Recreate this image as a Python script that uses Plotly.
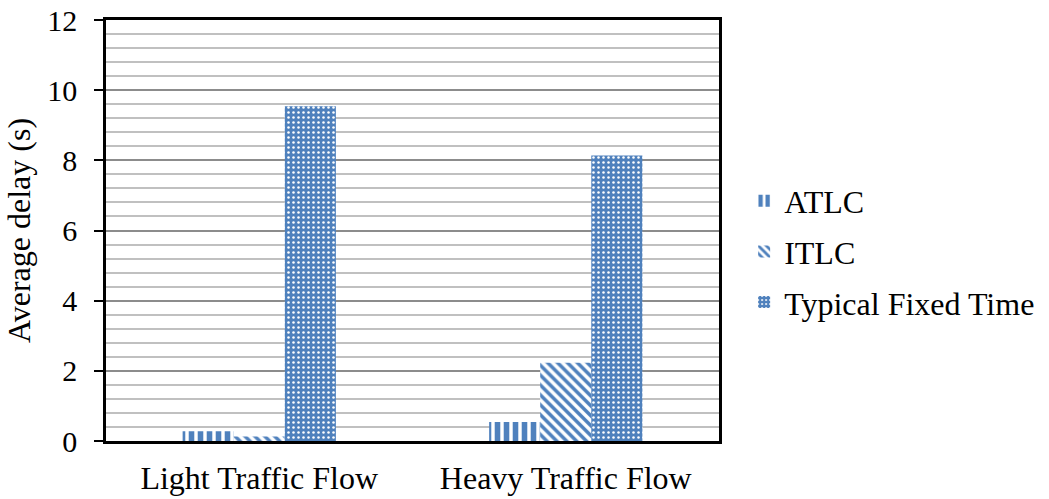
import plotly.graph_objects as go

categories = ["Light Traffic Flow", "Heavy Traffic Flow"]
atlc = [0.28, 0.54]
itlc = [0.13, 2.23]
fixed_time = [9.54, 8.14]

series_names = ["ATLC", "ITLC", "Typical Fixed Time"]
series_values = [atlc, itlc, fixed_time]

BLUE = "#4f81bd"
patterns = [
    dict(shape="|", fgcolor=BLUE, bgcolor="white", size=9, solidity=0.62, fillmode="replace"),
    dict(shape="\\", fgcolor=BLUE, bgcolor="white", size=7, solidity=0.5, fillmode="replace"),
    dict(shape=".", fgcolor="white", bgcolor=BLUE, size=5, solidity=0.2, fillmode="replace"),
]

fig = go.Figure()
for i, (name, vals, pat) in enumerate(zip(series_names, series_values, patterns)):
    fig.add_trace(go.Bar(
        x=categories, y=vals, name=name, legendgroup=f"g{i}",
        marker=dict(color=BLUE, line=dict(width=0), pattern=pat),
    ))

serif = "Times New Roman, Liberation Serif, DejaVu Serif, serif"
FS = 32
fig.update_layout(
    width=1049, height=499,
    margin=dict(l=106, r=330, t=20, b=58, autoexpand=False),
    paper_bgcolor="white", plot_bgcolor="white",
    barmode="group", bargap=0.5, bargroupgap=0,
    font=dict(family=serif, size=FS, color="black"),
    legend=dict(x=1.041, y=0.45, xanchor="left", yanchor="middle",
                font=dict(family=serif, size=FS, color="black"),
                tracegroupgap=6, itemwidth=30),
    showlegend=True,
)
fig.update_yaxes(
    range=[0, 12], dtick=2, tick0=0,
    showgrid=True, gridcolor="#8c8c8c", gridwidth=1.5,
    minor=dict(dtick=0.4, tick0=0, showgrid=True, gridcolor="#c0c0c0", gridwidth=1.5),
    showline=True, linecolor="black", linewidth=2.5, mirror=True,
    ticks="outside", ticklen=9, tickcolor="black", tickwidth=2,
    ticklabelstandoff=11, automargin=False,
    tickfont=dict(family=serif, size=30),
    title=dict(text="Average delay (s)", standoff=8, font=dict(family=serif, size=FS)),
    zeroline=False,
)
fig.update_xaxes(
    showline=True, linecolor="black", linewidth=2.5, mirror=True,
    ticks="", ticklabelstandoff=7, automargin=False,
    tickfont=dict(family=serif, size=FS),
)

fig.write_html("out.html")
